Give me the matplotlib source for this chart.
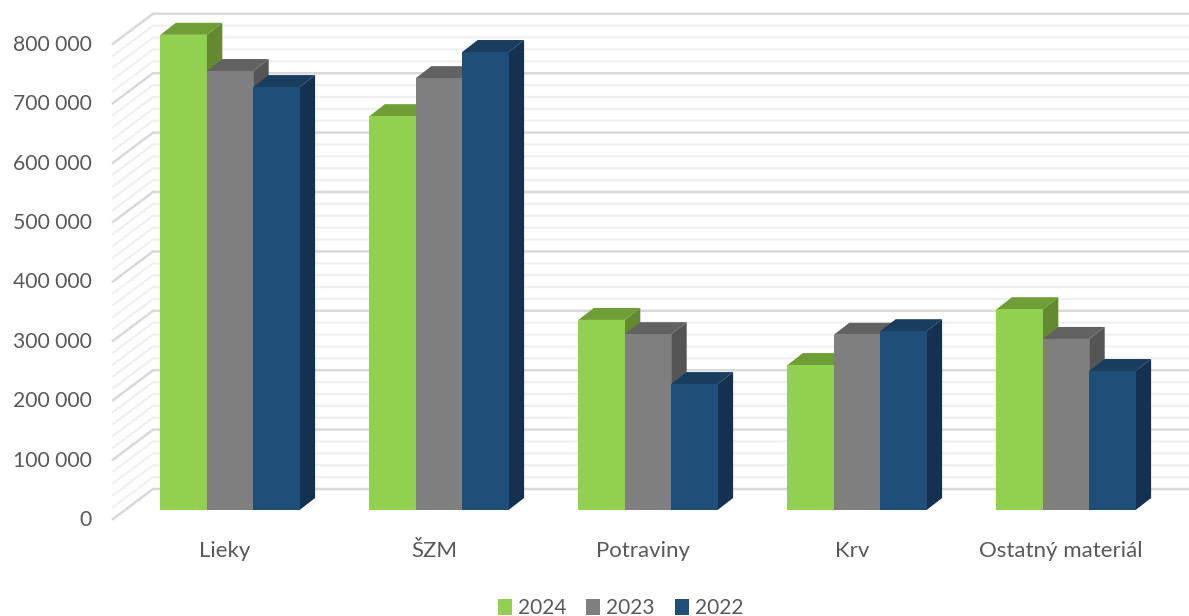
import matplotlib
matplotlib.use("Agg")
import matplotlib.pyplot as plt
from matplotlib.patches import Polygon, Patch

categories = ["Lieky", "ŠZM", "Potraviny", "Krv", "Ostatný materiál"]
years = ["2024", "2023", "2022"]
v2024 = [800000, 663000, 320000, 244000, 338000]
v2023 = [739000, 727000, 296000, 295000, 288000]
v2022 = [712000, 771000, 212000, 301000, 234000]
yticks = [0, 100000, 200000, 300000, 400000, 500000, 600000, 700000, 800000]
minor_ticks = [v for v in range(0, 800001, 20000) if v % 100000 != 0]

front = ["#92D050", "#7F7F7F", "#1F4E79"]
top = ["#6F9E37", "#626262", "#183D5F"]
side = ["#628A2F", "#555555", "#143150"]
text_col = "#595959"

# scale of the picture: 209 px per category, 59.4 px per 100 000
PX_X = 1 / 209
PX_Y = 100000 / 59.4
X0 = 230.0
bar_w = 46.4 * PX_X
dx = 15.5 * PX_X
dy = 12 * PX_Y

plt.rcParams["font.family"] = ["Lato", "DejaVu Sans"]

fig = plt.figure(figsize=(11.89, 6.16), dpi=100)
ax = fig.add_axes([0, 0, 1, 1])
ax.set_xlim(-X0 * PX_X, (1189 - X0) * PX_X)
ax.set_ylim((510 - 616) * PX_Y, 510 * PX_Y)
ax.axis("off")

# back wall and side wall gridlines
wall_l = (113 - X0) * PX_X
wall_b = (153 - X0) * PX_X
wall_r = (1189 - X0) * PX_X
lift_f = -9 * PX_Y
lift_b = 21 * PX_Y


def wall_line(v, color, lw):
    ax.plot([wall_l, wall_b, wall_r], [v + lift_f, v + lift_b, v + lift_b],
            color=color, lw=lw, solid_joinstyle="miter", zorder=1)


for v in minor_ticks:
    wall_line(v, "#F0F0F0", 1.6)
for v in yticks:
    wall_line(v, "#D9D9D9", 1.8)


# one 3d looking bar: side, top, then front
def bar3d(x, v, i):
    ax.add_patch(Polygon([(x + bar_w, 0), (x + bar_w + dx, dy), (x + bar_w + dx, v + dy), (x + bar_w, v)],
                         fc=side[i], ec="none", zorder=3))
    ax.add_patch(Polygon([(x, v), (x + dx, v + dy), (x + bar_w + dx, v + dy), (x + bar_w, v)],
                         fc=top[i], ec="none", zorder=3))
    ax.add_patch(Polygon([(x, 0), (x, v), (x + bar_w, v), (x + bar_w, 0)],
                         fc=front[i], ec="none", zorder=3))


for c in range(len(categories)):
    for i, vals in enumerate([v2024, v2023, v2022]):
        bar3d(c + (i - 1.5) * bar_w, vals[c], i)

# axis labels
for v in yticks:
    label = f"{v:,}".replace(",", " ")
    ax.text((92 - X0) * PX_X, v - 10 * PX_Y, label, ha="right", va="center",
            fontsize=15.2, color=text_col)

for c, name in enumerate(categories):
    ax.text(c - 5 * PX_X, -41 * PX_Y, name, ha="center", va="center",
            fontsize=16, color=text_col)

handles = [Patch(fc=front[i], ec="none", label=years[i]) for i in range(3)]
fig.legend(handles=handles, loc="center", bbox_to_anchor=(620.5 / 1189, 1 - 608 / 616), ncol=3,
           frameon=False, fontsize=15, labelcolor=text_col, handlelength=0.67, handleheight=0.8,
           handletextpad=0.3, columnspacing=0.95, borderpad=0)

fig.savefig("out.png", dpi=100)
plt.close(fig)
